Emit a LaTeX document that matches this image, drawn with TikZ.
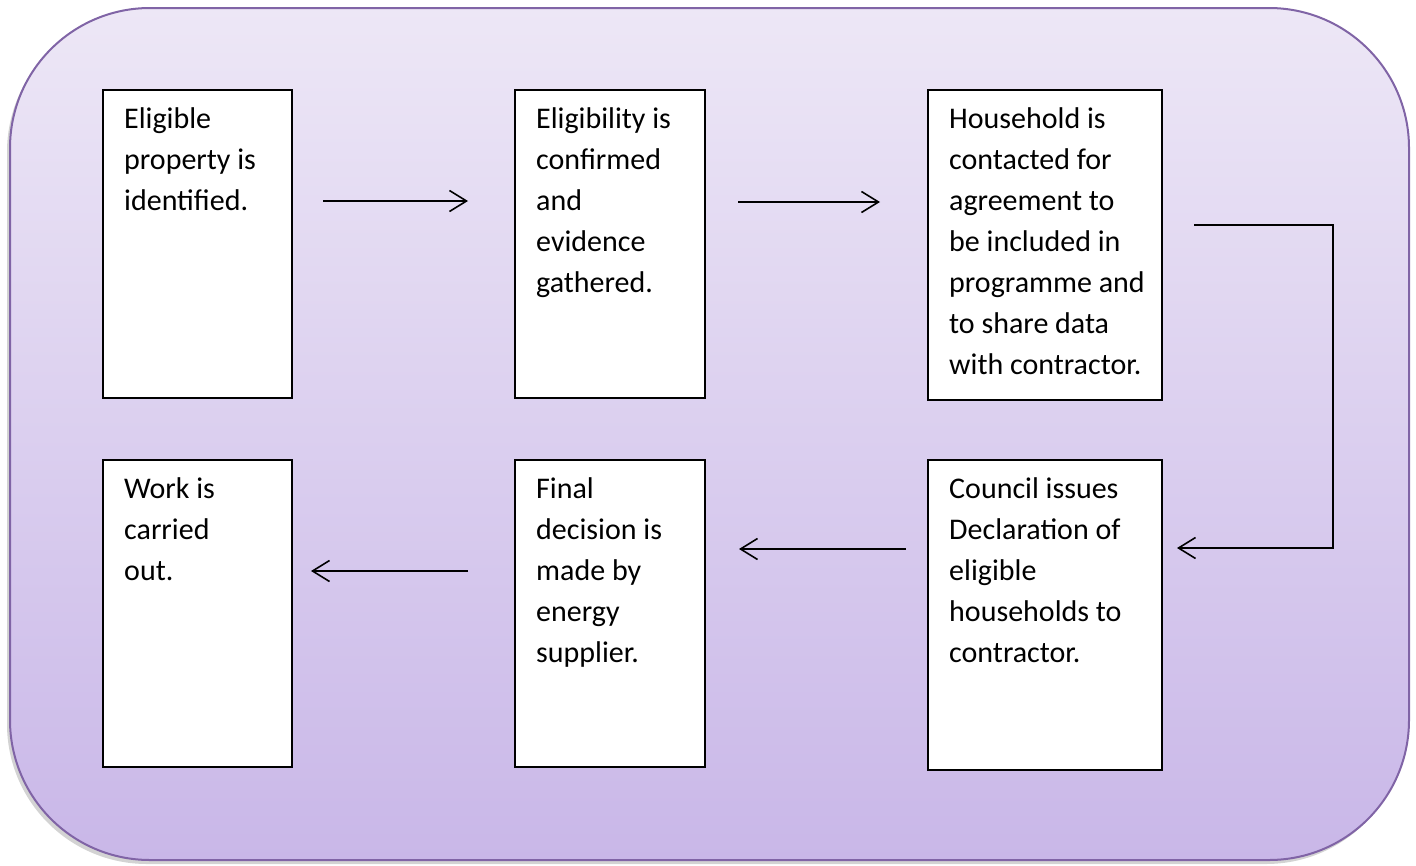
\documentclass[tikz,border=0pt]{standalone}
\usepackage{fontspec}
\setmainfont{Carlito}
\usepackage{tikz}
\usetikzlibrary{arrows.meta,positioning,shadows}
\definecolor{paneltop}{RGB}{237,231,246}
\definecolor{panelbot}{RGB}{201,183,232}
\definecolor{panelline}{RGB}{128,100,166}
\tikzstyle{stepbox}=[rectangle, draw=black, line width=2pt, fill=white, inner sep=0pt]
\tikzstyle{steptext}=[align=left, inner sep=0pt, font=\fontsize{30}{41}\selectfont]
\tikzstyle{flow}=[line width=1.6pt, -{Straight Barb[length=17pt,width=21pt]}]

\begin{document}
\begin{tikzpicture}[x=1pt,y=-1pt]
\useasboundingbox (0,0) rectangle (1416,865);
\draw[draw=panelline, line width=2pt, rounded corners=140pt, top color=paneltop, bottom color=panelbot,
  drop shadow={shadow xshift=-3pt, shadow yshift=-4pt, opacity=0.35}] (10,8) rectangle (1409,860);
% top row
\node (s1) at (197.5,244) [stepbox, minimum width=189pt, minimum height=308pt] {};
\node (s2) at (610,244) [stepbox, minimum width=190pt, minimum height=308pt] {};
\node (s3) at (1045,245) [stepbox, minimum width=234pt, minimum height=310pt] {};
% bottom row
\node (s4) at (197.5,613.5) [stepbox, minimum width=189pt, minimum height=307pt] {};
\node (s5) at (610,613.5) [stepbox, minimum width=190pt, minimum height=307pt] {};
\node (s6) at (1045,615) [stepbox, minimum width=234pt, minimum height=310pt] {};
\node (t1) [steptext, below right=11pt and 22pt of s1.north west] {\strut Eligible\\property is\\identified.};
\node (t2) [steptext, below right=11pt and 22pt of s2.north west] {\strut Eligibility is\\confirmed\\and\\evidence\\gathered.};
\node (t3) [steptext, below right=11pt and 22pt of s3.north west] {\strut Household is\\contacted for\\agreement to\\be included in\\programme and\\to share data\\with contractor.};
\node (t4) [steptext, below right=11pt and 22pt of s4.north west] {\strut Work is\\carried\\out.};
\node (t5) [steptext, below right=11pt and 22pt of s5.north west] {\strut Final\\decision is\\made by\\energy\\supplier.};
\node (t6) [steptext, below right=11pt and 22pt of s6.north west] {\strut Council issues\\Declaration of\\eligible\\households to\\contractor.};
% arrow ends
\coordinate (a1) at (323,201);
\coordinate (e1) at (468,201);
\coordinate (a2) at (738,202);
\coordinate (e2) at (880,202);
\coordinate (c1) at (1194,225);
\coordinate (c2) at (1333,225);
\coordinate (c3) at (1333,548);
\coordinate (c4) at (1177,548);
\coordinate (a4) at (906,549);
\coordinate (e4) at (739,549);
\coordinate (a5) at (468,571);
\coordinate (e5) at (311,571);
\draw[flow] (a1) -- (e1);
\draw[flow] (a2) -- (e2);
\draw[flow] (c1) -- (c2) -- (c3) -- (c4);
\draw[flow] (a4) -- (e4);
\draw[flow] (a5) -- (e5);
\end{tikzpicture}
\end{document}
